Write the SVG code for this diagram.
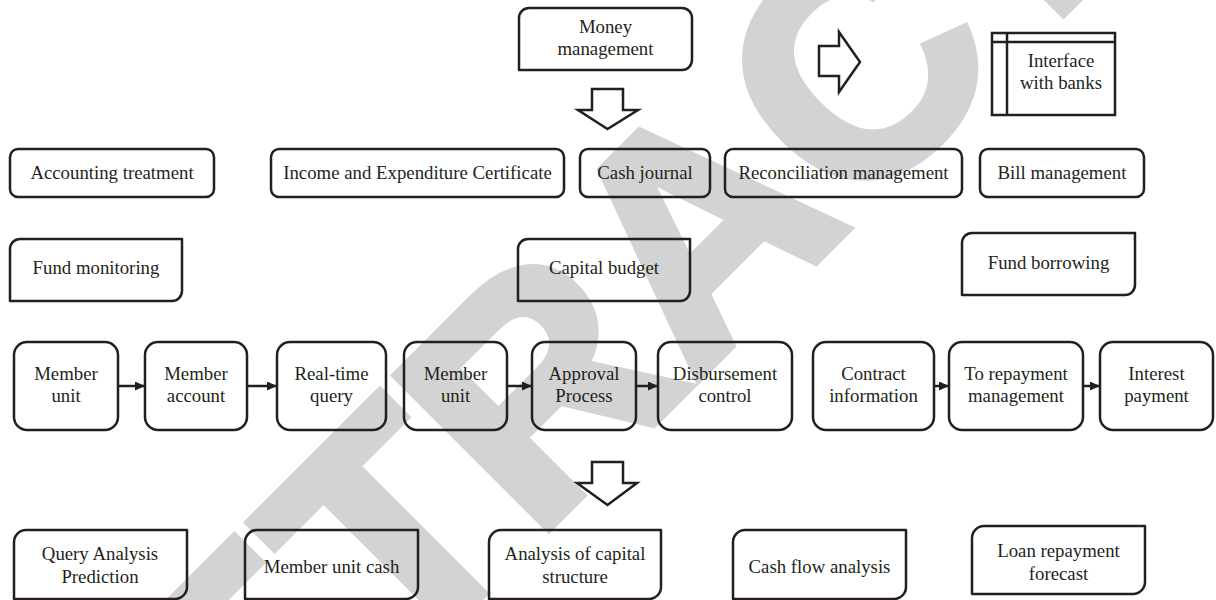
<svg xmlns="http://www.w3.org/2000/svg" width="1216" height="600" viewBox="0 0 1216 600">
<defs>
<style>
.b{fill:none;stroke:#231f20;stroke-width:2.5;stroke-linejoin:round}
.t{font-family:"Liberation Serif","Times New Roman",serif;font-size:18.8px;fill:#231f20;text-anchor:middle}
.c{fill:none;stroke:#231f20;stroke-width:2.5}
.wm{font-family:"Liberation Sans",Arial,sans-serif;font-weight:bold;font-size:312px;fill:#d3d3d3;stroke:#d3d3d3;stroke-width:10;text-anchor:middle}
</style>
<marker id="ah" markerUnits="userSpaceOnUse" markerWidth="12" markerHeight="10" refX="10" refY="4.5" orient="auto">
<path d="M0,0 L10,4.5 L0,9 Z" fill="#231f20"/>
</marker>
</defs>
<rect width="1216" height="600" fill="#fff"/>
<text class="wm" x="773" y="303" transform="rotate(-45 773 303)">RETRACTED</text>

<g id="money-management"><path class="b" d="M519,18 A10,10 0 0 1 529,8 H682 A10,10 0 0 1 692,18 V60 A10,10 0 0 1 682,70 H519 Z"/><text class="t" x="605.5" y="33">Money</text><text class="t" x="605.5" y="55">management</text></g>
<g id="arrow-down-1"><path class="b" style="stroke-linejoin:miter" d="M592,89 H623 V110 H638 L607.5,129 L578,110 H592 Z"/></g>
<g id="arrow-right"><path class="b" style="stroke-linejoin:miter" d="M819,46 H839 V32 L860,62 L839,92 V76 H819 Z"/></g>
<g id="interface-banks"><rect class="b" style="stroke-linejoin:miter" x="992" y="33" width="123" height="82"/><line class="c" x1="1007" y1="33" x2="1007" y2="115"/><line class="c" x1="992" y1="42" x2="1115" y2="42"/><text class="t" x="1061" y="67">Interface</text><text class="t" x="1061" y="89">with banks</text></g>

<g id="accounting-treatment"><rect class="b" x="10" y="149" width="204" height="48" rx="8"/><text class="t" x="112" y="179">Accounting treatment</text></g>
<g id="income-expenditure"><rect class="b" x="271" y="149" width="293" height="48" rx="8"/><text class="t" x="417.5" y="179">Income and Expenditure Certificate</text></g>
<g id="cash-journal"><rect class="b" x="580" y="149" width="130" height="48" rx="8"/><text class="t" x="645" y="179">Cash journal</text></g>
<g id="reconciliation"><rect class="b" x="725" y="149" width="237" height="48" rx="8"/><text class="t" x="843.5" y="179">Reconciliation management</text></g>
<g id="bill-management"><rect class="b" x="980" y="149" width="164" height="48" rx="8"/><text class="t" x="1062" y="179">Bill management</text></g>

<g id="fund-monitoring"><path class="b" d="M10,249 A10,10 0 0 1 20,239 H182 V291 A10,10 0 0 1 172,301 H10 Z"/><text class="t" x="96" y="274">Fund monitoring</text></g>
<g id="capital-budget"><path class="b" d="M518,249 A10,10 0 0 1 528,239 H690 V291 A10,10 0 0 1 680,301 H518 Z"/><text class="t" x="604" y="274">Capital budget</text></g>
<g id="fund-borrowing"><path class="b" d="M962,243 A10,10 0 0 1 972,233 H1135 V285 A10,10 0 0 1 1125,295 H962 Z"/><text class="t" x="1048.5" y="269">Fund borrowing</text></g>

<g id="member-unit-1"><rect class="b" x="14" y="342" width="104" height="88" rx="13"/><text class="t" x="66" y="380">Member</text><text class="t" x="66" y="402">unit</text></g>
<g id="member-account"><rect class="b" x="145" y="342" width="102" height="88" rx="13"/><text class="t" x="196" y="380">Member</text><text class="t" x="196" y="402">account</text></g>
<g id="real-time-query"><rect class="b" x="277" y="342" width="109" height="88" rx="13"/><text class="t" x="331.5" y="380">Real-time</text><text class="t" x="331.5" y="402">query</text></g>
<g id="member-unit-2"><rect class="b" x="404" y="342" width="103" height="88" rx="13"/><text class="t" x="455.5" y="380">Member</text><text class="t" x="455.5" y="402">unit</text></g>
<g id="approval-process"><rect class="b" x="532" y="342" width="104" height="88" rx="13"/><text class="t" x="584" y="380">Approval</text><text class="t" x="584" y="402">Process</text></g>
<g id="disbursement-control"><rect class="b" x="658" y="342" width="134" height="88" rx="13"/><text class="t" x="725" y="380">Disbursement</text><text class="t" x="725" y="402">control</text></g>
<g id="contract-information"><rect class="b" x="813" y="342" width="121" height="88" rx="13"/><text class="t" x="873.5" y="380">Contract</text><text class="t" x="873.5" y="402">information</text></g>
<g id="to-repayment"><rect class="b" x="949" y="342" width="134" height="88" rx="13"/><text class="t" x="1016" y="380">To repayment</text><text class="t" x="1016" y="402">management</text></g>
<g id="interest-payment"><rect class="b" x="1100" y="342" width="113" height="88" rx="13"/><text class="t" x="1156.5" y="380">Interest</text><text class="t" x="1156.5" y="402">payment</text></g>

<g id="arrow-down-2"><path class="b" style="stroke-linejoin:miter" d="M592,462 H623 V483 H637 L607.5,505 L577,483 H592 Z"/></g>

<g id="query-analysis"><path class="b" d="M14,542 A12,12 0 0 1 26,530 H187 V587 A12,12 0 0 1 175,599 H14 Z"/><text class="t" x="100" y="560">Query Analysis</text><text class="t" x="100" y="583">Prediction</text></g>
<g id="member-unit-cash"><path class="b" d="M245,542 A12,12 0 0 1 257,530 H418 V587 A12,12 0 0 1 406,599 H245 Z"/><text class="t" x="331.5" y="573">Member unit cash</text></g>
<g id="capital-structure"><path class="b" d="M489,542 A12,12 0 0 1 501,530 H661 V587 A12,12 0 0 1 649,599 H489 Z"/><text class="t" x="575" y="560">Analysis of capital</text><text class="t" x="575" y="583">structure</text></g>
<g id="cash-flow"><path class="b" d="M733,542 A12,12 0 0 1 745,530 H906 V587 A12,12 0 0 1 894,599 H733 Z"/><text class="t" x="819.5" y="573">Cash flow analysis</text></g>
<g id="loan-forecast"><path class="b" d="M972,538 A12,12 0 0 1 984,526 H1145 V582 A12,12 0 0 1 1133,594 H972 Z"/><text class="t" x="1058.5" y="557">Loan repayment</text><text class="t" x="1058.5" y="580">forecast</text></g>

<g id="connectors">
<line class="c" x1="118" y1="386" x2="145" y2="386" marker-end="url(#ah)"/>
<line class="c" x1="247" y1="386" x2="277" y2="386" marker-end="url(#ah)"/>
<line class="c" x1="507" y1="386" x2="532" y2="386" marker-end="url(#ah)"/>
<line class="c" x1="636" y1="386" x2="658" y2="386" marker-end="url(#ah)"/>
<line class="c" x1="934" y1="386" x2="949" y2="386" marker-end="url(#ah)"/>
<line class="c" x1="1083" y1="386" x2="1100" y2="386" marker-end="url(#ah)"/>
</g>
</svg>
